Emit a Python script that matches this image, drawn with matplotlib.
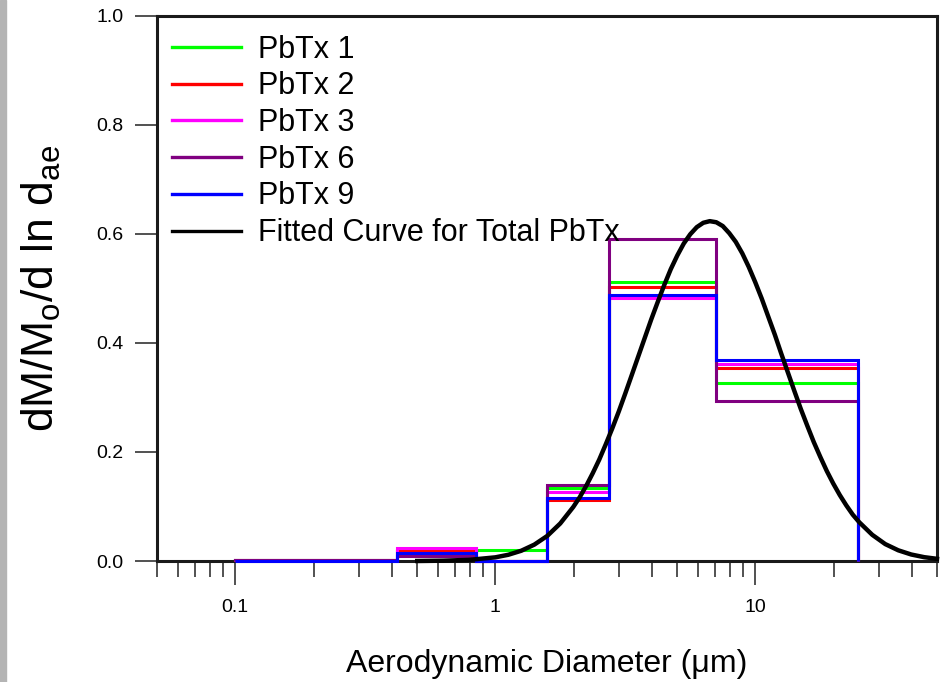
import matplotlib
matplotlib.use("Agg")
import matplotlib.pyplot as plt
from matplotlib.patches import Rectangle
from matplotlib.ticker import FixedLocator, FixedFormatter, FuncFormatter

plt.rcParams['font.family'] = ['Liberation Sans', 'DejaVu Sans']
plt.rcParams['mathtext.default'] = 'regular'

# impactor stage edges (um)
edges = [0.1, 0.42, 0.84, 1.58, 2.74, 7.06, 24.9]

pbtx1 = [0.002, 0.018, 0.020, 0.134, 0.512, 0.327]
pbtx2 = [0.001, 0.021, 0.000, 0.111, 0.503, 0.353]
pbtx3 = [0.001, 0.023, 0.000, 0.127, 0.483, 0.361]
pbtx6 = [0.001, 0.009, 0.000, 0.139, 0.591, 0.293]
pbtx9 = [0.000, 0.015, 0.000, 0.116, 0.487, 0.368]

series = [
    ("PbTx 1", pbtx1, "#00ff00"),
    ("PbTx 2", pbtx2, "#ff0000"),
    ("PbTx 3", pbtx3, "#ff00ff"),
    ("PbTx 6", pbtx6, "#800080"),
    ("PbTx 9", pbtx9, "#0000ff"),
]

# fitted curve, points
fit_d = [0.501, 0.631, 0.794, 1.0, 1.122, 1.259, 1.413, 1.585, 1.778, 1.995,
         2.113, 2.239, 2.371, 2.512, 2.661, 2.818, 2.985, 3.162, 3.350, 3.548,
         3.758, 3.981, 4.217, 4.467, 4.732, 5.012, 5.309, 5.623, 5.957, 6.310,
         6.683, 7.079, 7.499, 7.943, 8.414, 8.913, 9.441, 10.0, 10.59, 11.22,
         11.89, 12.59, 13.34, 14.13, 14.96, 15.85, 16.79, 17.78, 18.84, 19.95,
         21.13, 22.39, 23.71, 25.12, 28.18, 31.62, 35.48, 39.81, 44.67, 50.0]
fit_v = [0.000, 0.0006, 0.0021, 0.0067, 0.0114, 0.0188, 0.030, 0.046, 0.0688, 0.099,
         0.117, 0.138, 0.161, 0.186, 0.214, 0.243, 0.274, 0.307, 0.341, 0.375,
         0.409, 0.443, 0.475, 0.506, 0.535, 0.560, 0.582, 0.599, 0.612, 0.620,
         0.623, 0.621, 0.614, 0.601, 0.585, 0.564, 0.539, 0.511, 0.481, 0.448,
         0.415, 0.380, 0.346, 0.312, 0.279, 0.248, 0.218, 0.191, 0.165, 0.142,
         0.121, 0.102, 0.085, 0.071, 0.048, 0.031, 0.0196, 0.0119, 0.0070, 0.0040]

fig = plt.figure(figsize=(9.45, 6.82), dpi=100)
fig.patches.append(Rectangle((0, 0), 6 / 945, 1, transform=fig.transFigure,
                             color='#b4b4b4', zorder=0))
ax = fig.add_axes([157 / 945, 121 / 682, 780 / 945, 545.5 / 682])

for name, vals, col in series:
    ax.stairs(vals, edges, baseline=0, color=col, lw=2.2, label=name,
              zorder=3, clip_on=False)

ax.plot(fit_d, fit_v, color='black', lw=3.2, label="Fitted Curve for Total PbTx",
        zorder=4, clip_on=False, solid_joinstyle='round')

ax.set_xscale('log')
ax.set_xlim(0.05, 50)
ax.set_ylim(0, 1.0)

ax.xaxis.set_major_locator(FixedLocator([0.1, 1, 10]))
ax.xaxis.set_major_formatter(FixedFormatter(['0.1', '1', '10']))
minors = [0.05, 0.06, 0.07, 0.08, 0.09, 0.2, 0.3, 0.4, 0.5, 0.6, 0.7, 0.8, 0.9,
          2, 3, 4, 5, 6, 7, 8, 9, 20, 30, 40, 50]
ax.xaxis.set_minor_locator(FixedLocator(minors))
ax.xaxis.set_minor_formatter(FixedFormatter([''] * len(minors)))
ax.set_yticks([0, 0.2, 0.4, 0.6, 0.8, 1.0])
ax.yaxis.set_major_formatter(FuncFormatter(lambda v, p: "%.1f" % v))

ax.tick_params(axis='x', which='major', direction='out', length=17.3, width=1.2,
               pad=10, labelsize=14, color='#333333')
ax.tick_params(axis='x', which='minor', direction='out', length=11.5, width=1.2,
               color='#333333')
ax.tick_params(axis='y', which='major', direction='out', length=15.8, width=1.2,
               pad=8.5, labelsize=14, color='#333333')

for s in ax.spines.values():
    s.set_linewidth(2.2)
    s.set_color('#1a1a1a')

ax.set_xlabel(u"Aerodynamic Diameter (\u03bcm)", fontsize=23, labelpad=24)
ax.set_ylabel(r"dM/M$_o$/d ln d$_{ae}$", fontsize=32, labelpad=24)

leg = ax.legend(loc='upper left', bbox_to_anchor=(0.0, 0.993), frameon=False,
                fontsize=22, handlelength=2.25, handletextpad=0.55,
                labelspacing=0.22, borderaxespad=0.3, borderpad=0.2)
for ln in leg.get_lines():
    ln.set_linewidth(2.4)

fig.savefig("out.png", dpi=100)
